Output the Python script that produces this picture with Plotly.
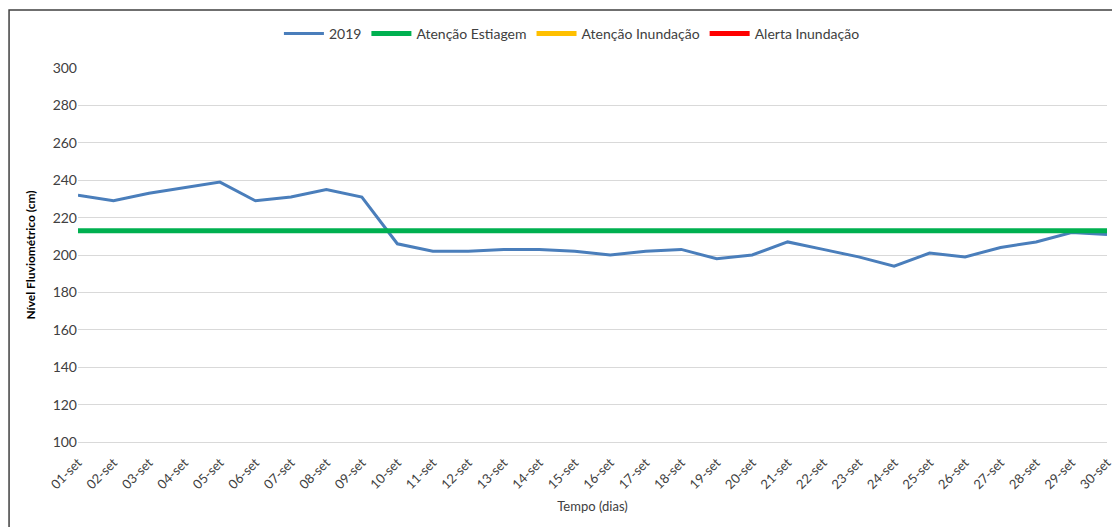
import plotly.graph_objects as go

dias = [f"{d:02d}-set" for d in range(1, 31)]
nivel_2019 = [232, 229, 233, 236, 239, 229, 231, 235, 231, 206,
              202, 202, 203, 203, 202, 200, 202, 203, 198, 200,
              207, 203, 199, 194, 201, 199, 204, 207, 212, 211]
atencao_estiagem = [213] * 30
atencao_inundacao = [None] * 30
alerta_inundacao = [None] * 30

FONT = "Lato"

fig = go.Figure()
fig.add_trace(go.Scatter(x=dias, y=nivel_2019, name="2019", mode="lines",
                         line=dict(color="#4a7ebb", width=3)))
fig.add_trace(go.Scatter(x=dias, y=atencao_estiagem, name="Atenção Estiagem", mode="lines",
                         line=dict(color="#00b050", width=5)))
fig.add_trace(go.Scatter(x=dias, y=atencao_inundacao, name="Atenção Inundação", mode="lines",
                         line=dict(color="#ffc000", width=5)))
fig.add_trace(go.Scatter(x=dias, y=alerta_inundacao, name="Alerta Inundação", mode="lines",
                         line=dict(color="#ff0000", width=5)))

# moldura do gráfico
fig.add_shape(type="rect", xref="paper", yref="paper",
              x0=-0.067, x1=1.05, y0=-0.3, y1=1.155,
              line=dict(color="#404040", width=1.5), layer="below")

fig.update_layout(
    width=1120, height=527,
    margin=dict(l=70, r=21, t=60, b=93, autoexpand=False),
    plot_bgcolor="white", paper_bgcolor="white",
    font=dict(family=FONT, size=13, color="#404040"),
    showlegend=True,
    legend=dict(orientation="h", x=0.48, xanchor="center", y=1.134, yanchor="top",
                font=dict(size=14, color="#404040"), itemwidth=40,
                bgcolor="rgba(0,0,0,0)", tracegroupgap=0),
    xaxis=dict(type="category", range=[0, 29], tickangle=-45, automargin=False,
               showgrid=False, showline=True, linecolor="#d9d9d9",
               ticks="outside", ticklen=7, tickcolor="rgba(0,0,0,0)",
               tickfont=dict(size=13, color="#404040"),
               title=dict(text="Tempo (dias)", font=dict(size=13, color="#404040"), standoff=10)),
    yaxis=dict(range=[100, 300], dtick=20, showgrid=True, gridcolor="#d9d9d9",
               zeroline=False, showline=False, ticks="", automargin=False,
               tickfont=dict(size=14, color="#404040"),
               title=dict(text="<b>Nível Fluviométrico (cm)</b>",
                          font=dict(size=12, color="#000000"), standoff=14)),
)

fig.write_html("out.html")
